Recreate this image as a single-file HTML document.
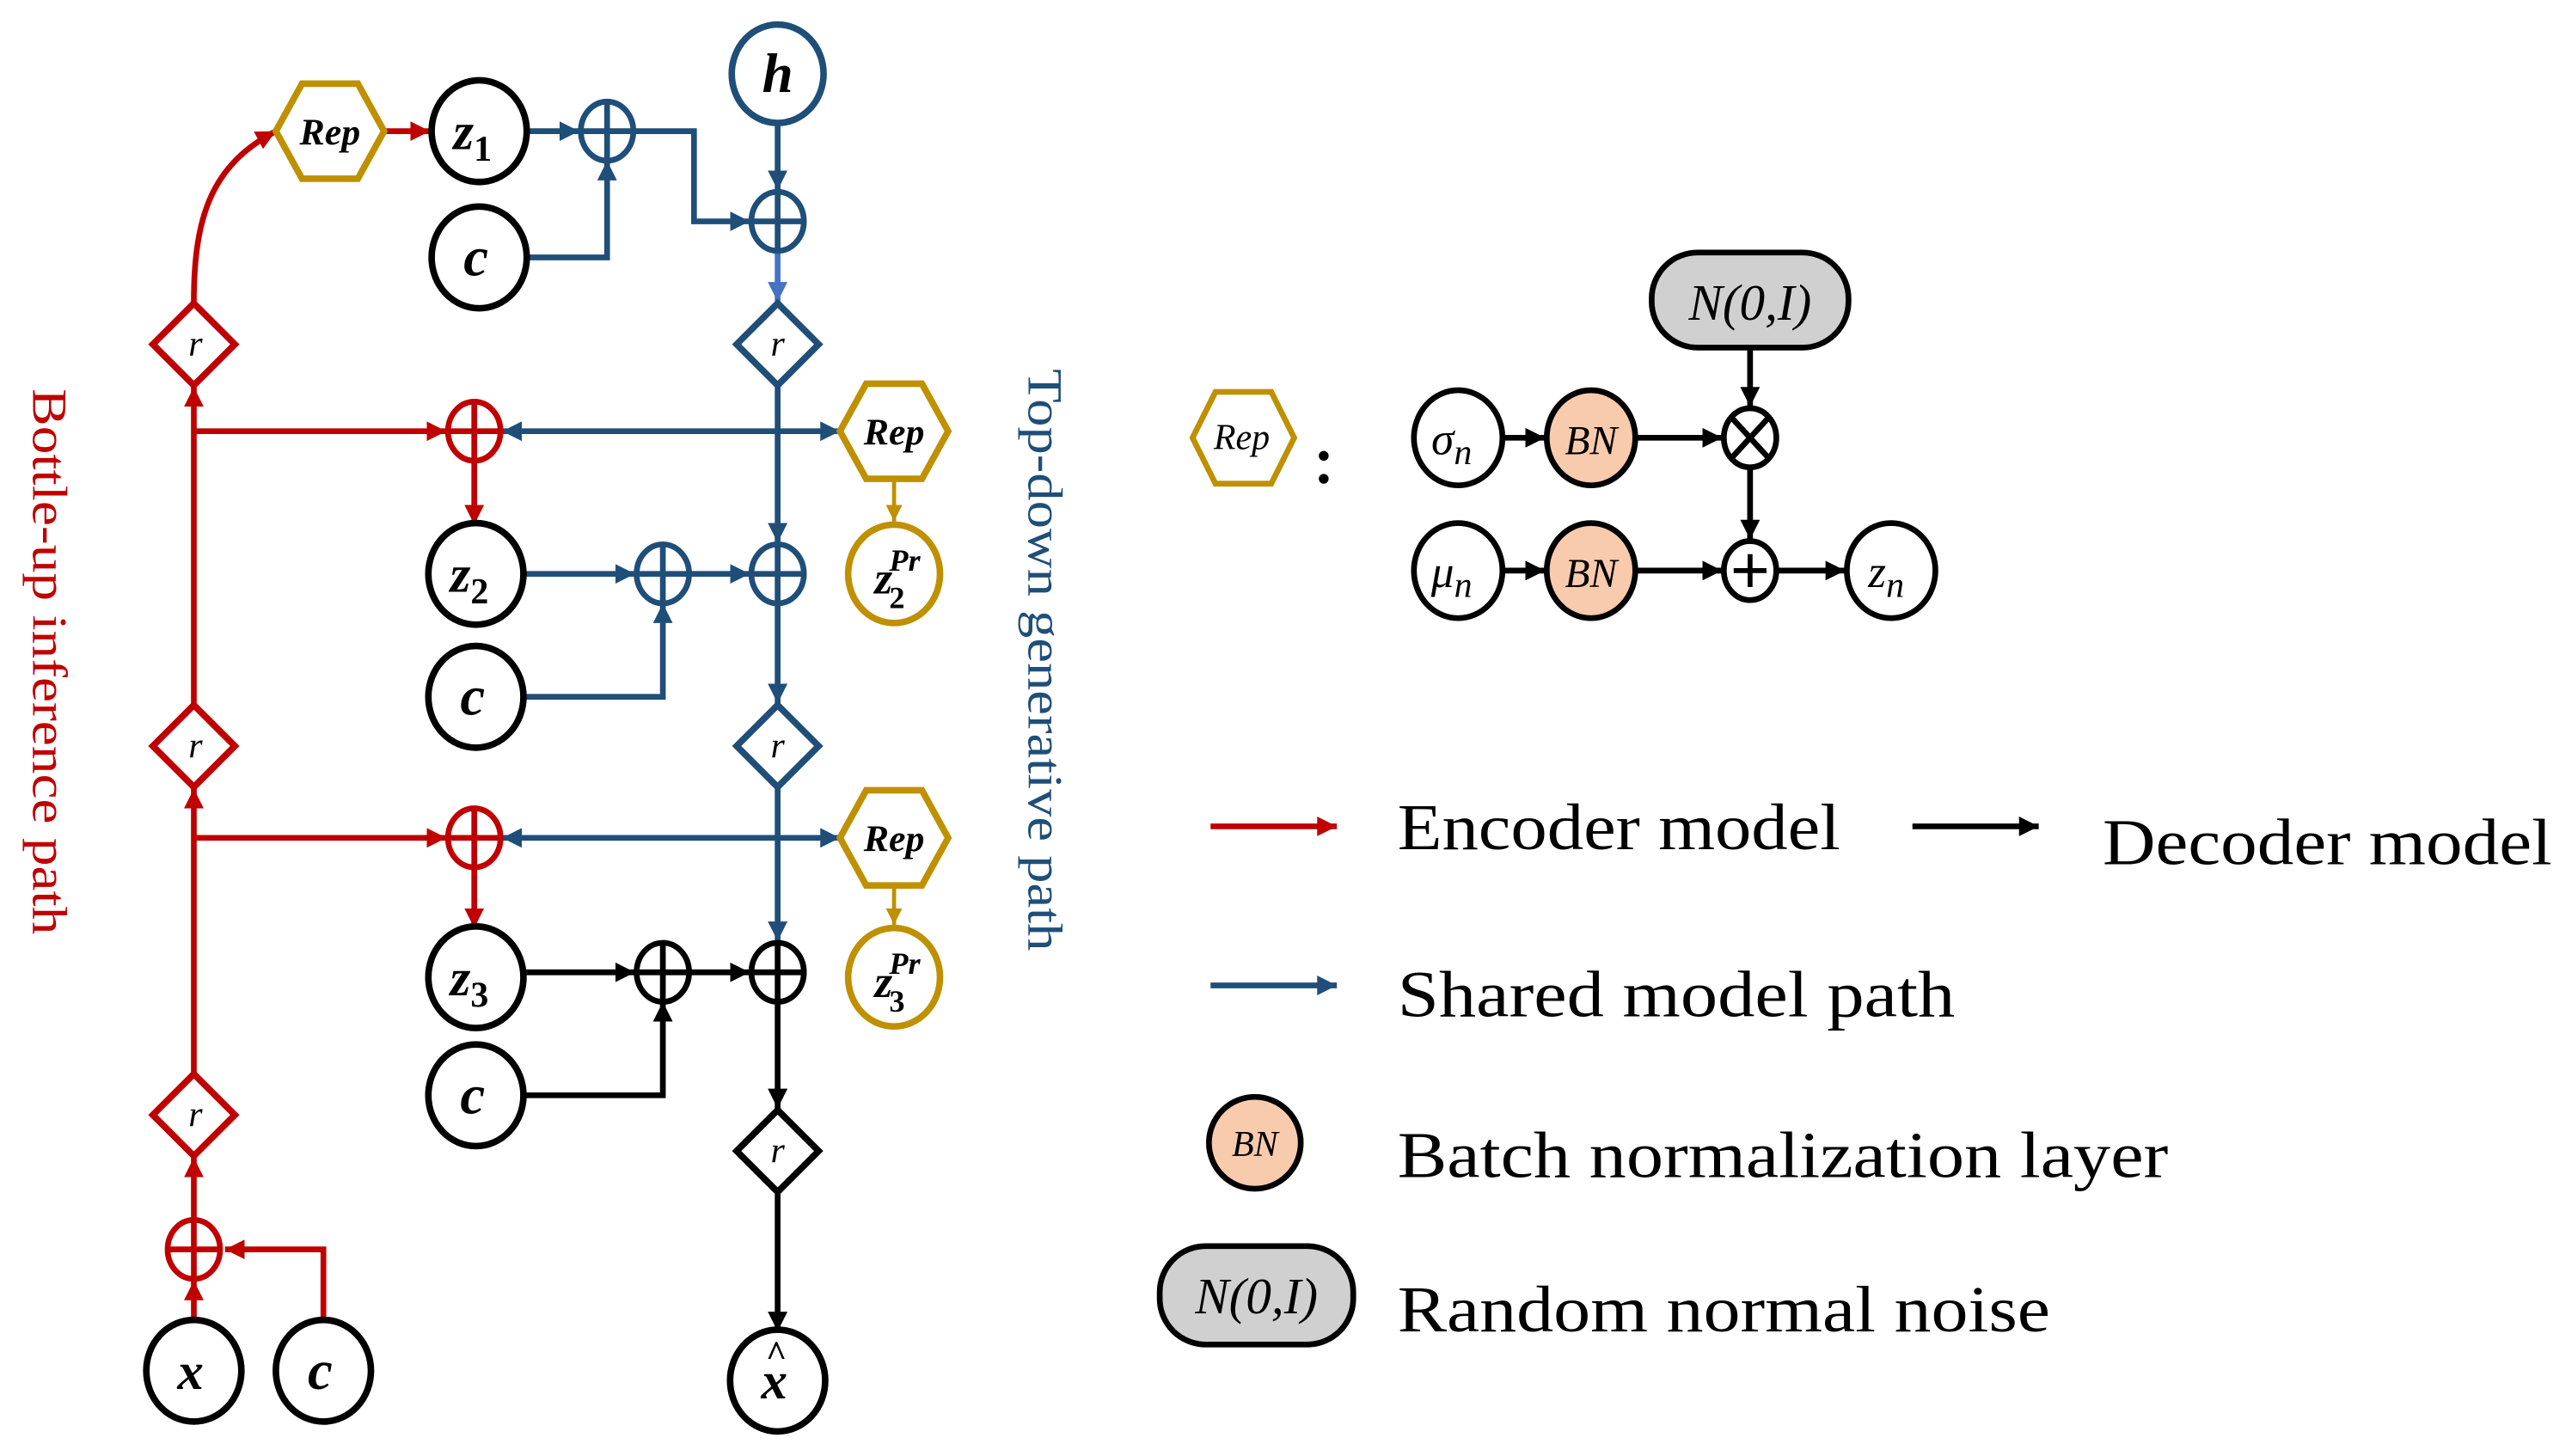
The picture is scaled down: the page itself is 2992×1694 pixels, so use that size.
<!DOCTYPE html>
<html><head><meta charset="utf-8"><style>html,body{margin:0;padding:0;background:#fff}svg{display:block}</style></head>
<body>
<svg width="2992" height="1694" viewBox="0 0 1568 888" xmlns="http://www.w3.org/2000/svg">
<defs>
<marker id="ar" markerUnits="userSpaceOnUse" markerWidth="14" markerHeight="12" refX="12" refY="6" orient="auto"><path d="M0,0 L12,6 L0,12 z" fill="#c00000"/></marker>
<marker id="ab" markerUnits="userSpaceOnUse" markerWidth="14" markerHeight="12" refX="12" refY="6" orient="auto"><path d="M0,0 L12,6 L0,12 z" fill="#1f4e79"/></marker>
<marker id="abs" markerUnits="userSpaceOnUse" markerWidth="14" markerHeight="12" refX="0" refY="6" orient="auto"><path d="M12,0 L0,6 L12,12 z" fill="#1f4e79"/></marker>
<marker id="ak" markerUnits="userSpaceOnUse" markerWidth="14" markerHeight="12" refX="12" refY="6" orient="auto"><path d="M0,0 L12,6 L0,12 z" fill="#000"/></marker>
<marker id="ag" markerUnits="userSpaceOnUse" markerWidth="12" markerHeight="10" refX="10" refY="5" orient="auto"><path d="M0,0 L10,5 L0,10 z" fill="#bf9000"/></marker>
<marker id="alb" markerUnits="userSpaceOnUse" markerWidth="14" markerHeight="12" refX="12" refY="6" orient="auto"><path d="M0,0 L12,6 L0,12 z" fill="#4472c4"/></marker>
</defs>
<g fill="none" stroke-width="3.5">
<g stroke="#c00000">
<path d="M118,805 V781" marker-end="url(#ar)"/>
<path d="M197,806 V762 H137" marker-end="url(#ar)"/>
<path d="M118,743 V706" marker-end="url(#ar)"/>
<path d="M118,654 V481" marker-end="url(#ar)"/>
<path d="M118,429 V236" marker-end="url(#ar)"/>
<path d="M118,184 C118,130 130,100 168,80" marker-end="url(#ar)"/>
<path d="M234,80 H262" marker-end="url(#ar)"/>
<path d="M118,263 H272" marker-end="url(#ar)"/>
<path d="M118,511 H272" marker-end="url(#ar)"/>
<path d="M289,282 V320" marker-end="url(#ar)"/>
<path d="M289,530 V566" marker-end="url(#ar)"/>
</g>
<g stroke="#1f4e79">
<path d="M322,80 H353" marker-end="url(#ab)"/>
<path d="M320,157 H370 V98" marker-end="url(#ab)"/>
<path d="M387,80 H423 V135 H457" marker-end="url(#ab)"/>
<path d="M474,75 V116" marker-end="url(#ab)"/>
<path d="M474,236 V331" marker-end="url(#ab)"/>
<path d="M474,369 V429" marker-end="url(#ab)"/>
<path d="M474,481 V574" marker-end="url(#ab)"/>
<path d="M306,263 H512" marker-start="url(#abs)" marker-end="url(#ab)"/>
<path d="M306,511 H512" marker-start="url(#abs)" marker-end="url(#ab)"/>
<path d="M320,350 H387" marker-end="url(#ab)"/>
<path d="M421,350 H457" marker-end="url(#ab)"/>
<path d="M320,425 H404 V368" marker-end="url(#ab)"/>
</g>
<path d="M474,154 V184" stroke="#4472c4" marker-end="url(#alb)"/>
<g stroke="#000">
<path d="M320,593 H387" marker-end="url(#ak)"/>
<path d="M421,593 H457" marker-end="url(#ak)"/>
<path d="M318,668 H404 V611" marker-end="url(#ak)"/>
<path d="M474,612 V676" marker-end="url(#ak)"/>
<path d="M474,728 V812" marker-end="url(#ak)"/>
</g>
<g stroke="#bf9000" stroke-width="2.5">
<path d="M545,292 V318" marker-end="url(#ag)"/>
<path d="M545,540 V564" marker-end="url(#ag)"/>
</g>
</g>

<g stroke-width="4" fill="#fff">
<ellipse cx="474" cy="45" rx="28" ry="30" stroke="#1f4e79"/>
<ellipse cx="292" cy="80" rx="29" ry="31" stroke="#000"/>
<ellipse cx="292" cy="157" rx="29" ry="31" stroke="#000"/>
<ellipse cx="290" cy="350" rx="29" ry="31" stroke="#000"/>
<ellipse cx="290" cy="425" rx="29" ry="31" stroke="#000"/>
<ellipse cx="290" cy="596" rx="29" ry="31" stroke="#000"/>
<ellipse cx="290" cy="668" rx="29" ry="31" stroke="#000"/>
<ellipse cx="118" cy="836" rx="29" ry="31" stroke="#000"/>
<ellipse cx="197" cy="836" rx="29" ry="31" stroke="#000"/>
<ellipse cx="474" cy="842" rx="29" ry="31" stroke="#000"/>
<ellipse cx="545" cy="350" rx="28" ry="30" stroke="#bf9000"/>
<ellipse cx="545" cy="596" rx="28" ry="30" stroke="#bf9000"/>
<polygon points="168,80 184,51 218,51 234,80 218,109 184,109" stroke="#bf9000"/>
<polygon points="512,263 528,234 562,234 578,263 562,292 528,292" stroke="#bf9000"/>
<polygon points="512,511 528,482 562,482 578,511 562,540 528,540" stroke="#bf9000"/>
<polygon points="118,185 143,210 118,235 93,210" stroke="#c00000"/>
<polygon points="118,430 143,455 118,480 93,455" stroke="#c00000"/>
<polygon points="118,655 143,680 118,705 93,680" stroke="#c00000"/>
<polygon points="474,185 499,210 474,235 449,210" stroke="#1f4e79"/>
<polygon points="474,430 499,455 474,480 449,455" stroke="#1f4e79"/>
<polygon points="474,677 499,702 474,727 449,702" stroke="#000"/>
</g>
<g fill="none" stroke-width="3.5">
<g stroke="#1f4e79">
<ellipse cx="370" cy="80" rx="16" ry="18"/><path d="M354,80 H386 M370,62 V98"/>
<ellipse cx="474" cy="135" rx="16" ry="18"/><path d="M458,135 H490 M474,117 V153"/>
<ellipse cx="404" cy="350" rx="16" ry="18"/><path d="M388,350 H420 M404,332 V368"/>
<ellipse cx="474" cy="350" rx="16" ry="18"/><path d="M458,350 H490 M474,332 V368"/>
</g>
<g stroke="#000">
<ellipse cx="404" cy="593" rx="16" ry="18"/><path d="M388,593 H420 M404,575 V611"/>
<ellipse cx="474" cy="593" rx="16" ry="18"/><path d="M458,593 H490 M474,575 V611"/>
</g>
<g stroke="#c00000">
<ellipse cx="289" cy="263" rx="16" ry="18"/><path d="M273,263 H305 M289,245 V281"/>
<ellipse cx="289" cy="511" rx="16" ry="18"/><path d="M273,511 H305 M289,493 V529"/>
<ellipse cx="118" cy="762" rx="16" ry="18"/><path d="M102,762 H134 M118,744 V780"/>
</g>
</g>

<g font-family="Liberation Serif, serif" font-style="italic" font-weight="bold" fill="#000" text-anchor="middle">
<text x="474" y="56" font-size="34">h</text>
<text x="288" y="91" font-size="32">z<tspan font-size="22" dy="7" font-style="normal">1</tspan></text>
<text x="290" y="168" font-size="34">c</text>
<text x="286" y="361" font-size="32">z<tspan font-size="22" dy="7" font-style="normal">2</tspan></text>
<text x="288" y="436" font-size="34">c</text>
<text x="286" y="607" font-size="32">z<tspan font-size="22" dy="7" font-style="normal">3</tspan></text>
<text x="288" y="679" font-size="34">c</text>
<text x="116" y="847" font-size="32">x</text>
<text x="195" y="847" font-size="34">c</text>
<text x="472" y="853" font-size="32">x</text>
<text x="473" y="833" font-size="22">^</text>
<text x="201" y="88" font-size="23">Rep</text>
<text x="545" y="271" font-size="23">Rep</text>
<text x="545" y="519" font-size="23">Rep</text>
<text x="540" y="362" font-size="28" text-anchor="end" dx="4">z</text><text x="542" y="371" font-size="19" text-anchor="start" font-style="normal">2</text><text x="542" y="348" font-size="19" text-anchor="start">Pr</text>
<text x="540" y="608" font-size="28" text-anchor="end" dx="4">z</text><text x="542" y="617" font-size="19" text-anchor="start" font-style="normal">3</text><text x="542" y="594" font-size="19" text-anchor="start">Pr</text>
</g>
<g font-family="Liberation Serif, serif" font-style="italic" fill="#000" text-anchor="middle" font-size="22">
<text x="119" y="217">r</text><text x="119" y="462">r</text><text x="119" y="687">r</text>
<text x="474" y="217">r</text><text x="474" y="462">r</text><text x="474" y="709">r</text>
</g>

<text transform="translate(20,237) rotate(90)" font-family="Liberation Serif, serif" font-size="30" fill="#c00000" textLength="333" lengthAdjust="spacingAndGlyphs">Bottle-up inference path</text>
<text transform="translate(627,225) rotate(90)" font-family="Liberation Serif, serif" font-size="30" fill="#1f4e79" textLength="355" lengthAdjust="spacingAndGlyphs">Top-down generative path</text>

<g stroke-width="3.5">
<polygon points="727,267 741,239 775,239 789,267 775,295 741,295" fill="#fff" stroke="#bf9000"/>
<rect x="1007" y="154" width="120" height="58" rx="28" fill="#d0d0d0" stroke="#000"/>
<ellipse cx="889" cy="267" rx="27" ry="29" fill="#fff" stroke="#000"/>
<ellipse cx="970" cy="267" rx="27" ry="29" fill="#f8cbad" stroke="#000"/>
<ellipse cx="889" cy="348" rx="27" ry="29" fill="#fff" stroke="#000"/>
<ellipse cx="970" cy="348" rx="27" ry="29" fill="#f8cbad" stroke="#000"/>
<ellipse cx="1153" cy="348" rx="27" ry="29" fill="#fff" stroke="#000"/>
<ellipse cx="1067" cy="267" rx="16" ry="18" fill="#fff" stroke="#000"/>
<path d="M1056,255 L1078,279 M1078,255 L1056,279" stroke="#000"/>
<ellipse cx="1067" cy="348" rx="16" ry="18" fill="#fff" stroke="#000"/>
<path d="M1057,348 H1077 M1067,338 V358" stroke="#000" stroke-width="3"/>
<g stroke="#000" fill="none">
<path d="M916,267 H942" marker-end="url(#ak)"/>
<path d="M997,267 H1050" marker-end="url(#ak)"/>
<path d="M916,348 H942" marker-end="url(#ak)"/>
<path d="M997,348 H1050" marker-end="url(#ak)"/>
<path d="M1083,348 H1125" marker-end="url(#ak)"/>
<path d="M1067,212 V248" marker-end="url(#ak)"/>
<path d="M1067,285 V329" marker-end="url(#ak)"/>
</g>
</g>
<circle cx="807" cy="278" r="3" fill="#000"/><circle cx="807" cy="292" r="3" fill="#000"/>
<g font-family="Liberation Serif, serif" font-style="italic" fill="#000" text-anchor="middle">
<text x="757" y="274" font-size="22">Rep</text>
<text x="1067" y="195" font-size="31">N(0,I)</text>
<text x="885" y="277" font-size="28">σ<tspan font-size="22" dy="6">n</tspan></text>
<text x="970" y="277" font-size="25">BN</text>
<text x="885" y="358" font-size="28">μ<tspan font-size="22" dy="6">n</tspan></text>
<text x="970" y="358" font-size="25">BN</text>
<text x="1150" y="358" font-size="28">z<tspan font-size="22" dy="6">n</tspan></text>
</g>

<g stroke-width="3.5" fill="none">
<path d="M738,504 H815" stroke="#c00000" marker-end="url(#ar)"/>
<path d="M1166,504 H1243" stroke="#000" marker-end="url(#ak)"/>
<path d="M738,601 H815" stroke="#1f4e79" marker-end="url(#ab)"/>
<ellipse cx="765" cy="697" rx="28" ry="28" fill="#f8cbad" stroke="#000"/>
<rect x="707" y="760" width="118" height="60" rx="28" fill="#d0d0d0" stroke="#000"/>
</g>
<g font-family="Liberation Serif, serif" font-style="italic" fill="#000" text-anchor="middle">
<text x="765" y="705" font-size="22">BN</text>
<text x="766" y="801" font-size="31">N(0,I)</text>
</g>
<g font-family="Liberation Serif, serif" fill="#000" font-size="40">
<text x="852" y="518" textLength="270" lengthAdjust="spacingAndGlyphs">Encoder model</text>
<text x="1282" y="527" textLength="274" lengthAdjust="spacingAndGlyphs">Decoder model</text>
<text x="852" y="620" textLength="340" lengthAdjust="spacingAndGlyphs">Shared model path</text>
<text x="852" y="718" textLength="470" lengthAdjust="spacingAndGlyphs">Batch normalization layer</text>
<text x="852" y="812" textLength="398" lengthAdjust="spacingAndGlyphs">Random normal noise</text>
</g>
</svg>
</body></html>
